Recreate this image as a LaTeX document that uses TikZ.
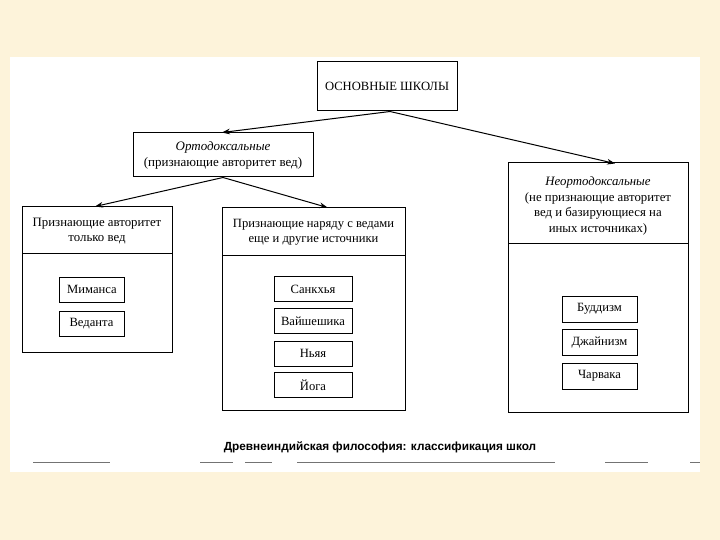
\documentclass[tikz,border=0pt]{standalone}
\usepackage{fontspec}
\setmainfont{Liberation Serif}
\setsansfont{Liberation Sans}
\usetikzlibrary{positioning,arrows.meta}
\definecolor{paper}{HTML}{FDF3DA}
\tikzset{
  conn/.style={-{Stealth[length=2.8mm,width=2mm]},line width=1pt},
  frame/.style={draw,line width=1pt,inner sep=0pt},
  school/.style={draw,line width=1pt,minimum height=25pt,font=\fontsize{12.6}{14}\selectfont},
  hdr/.style={align=center,font=\fontsize{12.8}{15.5}\selectfont},
  scanln/.style={line width=1pt,black!55},
}
\begin{document}
\begin{tikzpicture}[x=1pt,y=-1pt]
  % page and paper
  \fill[paper] (0,0) rectangle (720,540);
  \useasboundingbox (0,0) rectangle (720,540);
  \fill[white] (10,57) rectangle (700,472);

  % top level
  \node[frame,minimum width=140pt,minimum height=49pt,font=\fontsize{12.6}{14}\selectfont] (main) at (387,86.5) {ОСНОВНЫЕ ШКОЛЫ};
  \node[frame,minimum width=180pt,minimum height=44pt,hdr,font=\fontsize{13}{16}\selectfont] (orth) at (223,155)
    {\textit{Ортодоксальные}\\(признающие авторитет вед)};

  % three groups (outer frame, header, divider)
  \node[frame,minimum width=150pt,minimum height=145pt] (only) at (97,279.5) {};
  \node[hdr,font=\fontsize{12.8}{15}\selectfont] (onlyh) at (97,231) {Признающие авторитет\\только вед};
  \draw[line width=1pt] (22,253) -- (172,253);

  \node[frame,minimum width=183pt,minimum height=202pt] (also) at (313.5,309) {};
  \node[hdr,font=\fontsize{12.6}{15}\selectfont] (alsoh) at (313.5,232) {Признающие наряду с ведами\\еще и другие источники};
  \draw[line width=1pt] (222,255) -- (405,255);

  \node[frame,minimum width=180pt,minimum height=249pt] (neo) at (598,287.5) {};
  \node[hdr] (neoh) at (598,206) {\textit{Неортодоксальные}\\(не признающие авторитет\\вед и базирующиеся на\\иных источниках)};
  \draw[line width=1pt] (508,243) -- (688,243);

  % schools
  \node[school,minimum width=65pt] (mim) at (92,289.5) {Миманса};
  \node[school,minimum width=65pt] (ved) at (91.5,323.5) {Веданта};

  \node[school,minimum width=78pt] (san) at (313,289) {Санкхья};
  \node[school,minimum width=78pt] (vai) at (313,321) {Вайшешика};
  \node[school,minimum width=78pt] (nya) at (313,353.5) {Ньяя};
  \node[school,minimum width=78pt] (yog) at (313,385) {Йога};

  \node[school,minimum width=75pt,minimum height=26pt] (bud) at (599.5,309) {Буддизм};
  \node[school,minimum width=75pt,minimum height=26pt] (jai) at (599.5,342.5) {Джайнизм};
  \node[school,minimum width=75pt,minimum height=26pt] (cha) at (599.5,376) {Чарвака};

  % arrows
  \draw[conn] ([xshift=3pt]main.south) -- ([xshift=-1pt]orth.north);
  \draw[conn] ([xshift=3pt]main.south) -- ([xshift=17pt,yshift=-1pt]neo.north);
  \draw[conn] (orth.south) -- ([xshift=-2pt]only.north);
  \draw[conn] (orth.south) -- ([xshift=14pt]also.north);

  % caption
  \node[font=\sffamily\bfseries\fontsize{11.8}{13}\selectfont] (cap) at (380,447)
    {Древнеиндийская философия: классификация школ};

  % scan rules under the caption
  \draw[scanln] (33,462) -- (110,462);
  \draw[scanln] (200,462) -- (233,462);
  \draw[scanln] (245,462) -- (272,462);
  \draw[scanln] (297,462) -- (555,462);
  \draw[scanln] (605,462) -- (648,462);
  \draw[scanln] (690,462) -- (700,462);
\end{tikzpicture}
\end{document}
